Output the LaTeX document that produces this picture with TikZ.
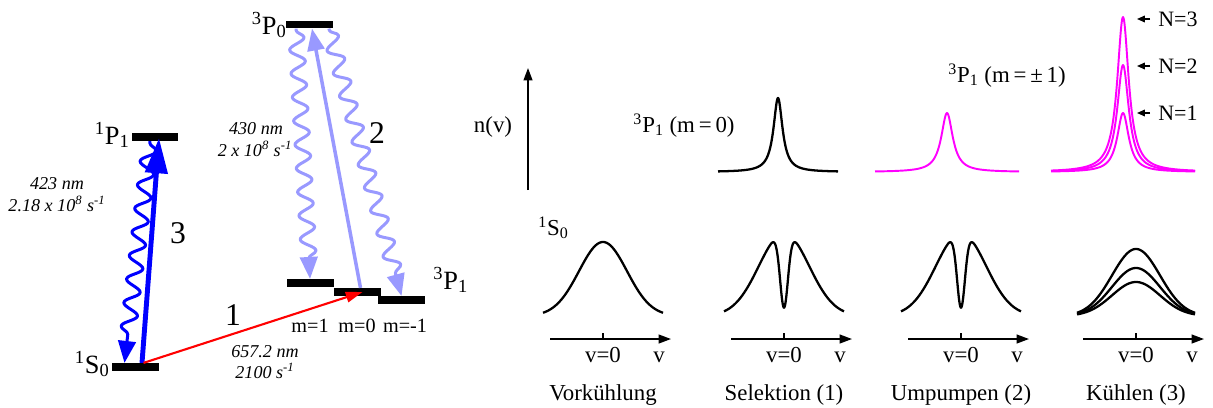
\documentclass[tikz,border=0pt]{standalone}
\usepackage{fontspec}
\setmainfont{Liberation Serif}
\usetikzlibrary{arrows.meta,calc,decorations.pathmorphing}
\definecolor{lightblue}{RGB}{153,153,255}
\definecolor{peakpink}{RGB}{255,0,255}
\newcommand{\atomterm}[3]{\textsuperscript{#1}#2\textsubscript{#3}}

\begin{document}
\begin{tikzpicture}[x=0.02cm,y=-0.02cm,>={Triangle[length=7pt,width=5pt]},line join=round]
	\tikzset{
		level/.style={fill=black,inner sep=0pt,minimum width=0.94cm,minimum height=0.15cm},
		term/.style={font=\fontsize{15}{18}\selectfont,inner sep=0pt},
		msub/.style={font=\fontsize{11.5}{13}\selectfont,inner sep=0pt},
		rate/.style={font=\fontsize{10.3}{12}\selectfont\itshape,inner sep=0pt},
		stepno/.style={font=\fontsize{18}{20}\selectfont,inner sep=0pt},
		txt/.style={font=\fontsize{13}{15}\selectfont,inner sep=0pt},
		ntxt/.style={font=\fontsize{12.5}{14}\selectfont,inner sep=0pt},
		wave/.style={line width=1.7pt,decorate,decoration={snake,amplitude=4.3pt,segment length=13.5pt,pre length=1pt,post length=11pt}},
		wavehead/.style={-{Triangle[length=12.5pt,width=10pt]}},
		curve/.style={line width=1.3pt,samples=241,smooth},
		vaxis/.style={line width=0.9pt}
	}
	\useasboundingbox (0,0) rectangle (1213,407);
	
	% --- Niveaus ---
	\node[level] (S0) at (135.5,367) {};
	\node[level] (P1) at (155,137) {};
	\node[level] (P0) at (309,24.5) {};
	\node[level] (m1) at (310,283) {};
	\node[level] (m0) at (357.5,292) {};
	\node[level] (mm1) at (401.5,300) {};
	
	\node[term,anchor=base east] (tS0) at (110,373) {\atomterm{1}{S}{0}};
	\node[term,anchor=base east] (tP1) at (130,144) {\atomterm{1}{P}{1}};
	\node[term,anchor=base east] (tP0) at (287,34) {\atomterm{3}{P}{0}};
	\node[term,anchor=base west] (tP3) at (433,289) {\atomterm{3}{P}{1}};
	
	\node[msub,anchor=base] (lm1) at (310,332) {m=1};
	\node[msub,anchor=base] (lm0) at (357,332) {m=0};
	\node[msub,anchor=base] (lmm1) at (405,332) {m=-1};
	
	% --- Uebergaenge ---
	\draw[blue,wave,wavehead] ($(P1.south)+(-5,0)$) -- ($(S0.north)+(-11,0)$);
	\draw[blue,line width=2.8pt,-{Triangle[length=20pt,width=12.5pt]}] ($(S0.north)+(6.5,0)$) -- ($(P1.south)+(4,-3)$);
	\draw[red,line width=1.2pt,-{Triangle[length=9.5pt,width=6pt]}] ($(S0.north)+(8,0)$) -- ($(m0.center)+(5,0)$);
	\draw[lightblue,wave,wavehead] ($(P0.south)+(-13,0)$) -- (m1.north);
	\draw[lightblue,wave,wavehead] ($(P0.south east)+(-4,0)$) -- (mm1.north);
	\draw[lightblue,line width=2pt,-{Triangle[length=12.5pt,width=9.6pt]}] ($(m0.north)+(3,0)$) -- ($(P0.south)+(3,0)$);
	
	\node[stepno,anchor=base] (n1) at (233,325) {1};
	\node[stepno,anchor=base] (n2) at (377,143) {2};
	\node[stepno,anchor=base] (n3) at (178,243) {3};
	
	\node[rate,anchor=base] (r1a) at (57,189) {423 nm};
	\node[rate,anchor=base] (r1b) at (57,211) {2.18 x 10\textsuperscript{8} s\textsuperscript{-1}};
	\node[rate,anchor=base] (r2a) at (256,134) {430 nm};
	\node[rate,anchor=base] (r2b) at (255,156) {2 x 10\textsuperscript{8} s\textsuperscript{-1}};
	\node[rate,anchor=base] (r3a) at (265,357) {657.2 nm};
	\node[rate,anchor=base] (r3b) at (265,378) {2100 s\textsuperscript{-1}};
	
	% --- Verteilungen 3P1 ---
	\draw[vaxis,->] (528,190) -- (528,68);
	\node[txt,anchor=base] (nv) at (493,132) {n(v)};
	\node[txt,anchor=base] (tm0) at (684,132) {\atomterm{3}{P}{1} (m\,=\,0)};
	\node[txt,anchor=base] (tm1) at (1007,82) {\atomterm{3}{P}{1} (m\,=\,±\,1)};
	
	\draw[curve] plot[domain=-60:60] ({778+\x},{172-74/(1+\x*\x/30)});
	\draw[curve,peakpink,line width=1.1pt] plot[domain=-72:72] ({947+\x},{172-59/(1+\x*\x/49)});
	\foreach \h in {59,107,155}
		\draw[curve,peakpink,line width=1.1pt] plot[domain=-72:72] ({1123+\x},{172-\h/(1+\x*\x/49)});
	
	\foreach \y/\n in {19/3,66/2,113/1}{
		\node[ntxt,anchor=west] (N\n) at (1158,\y) {N=\n};
		\draw[line width=0.8pt,-{Triangle[length=4.5pt,width=3.8pt]}] ($(N\n.west)+(-8,0)$) -- ($(N\n.west)+(-21,0)$);
	}
	
	% --- Verteilungen 1S0 ---
	\node[txt,anchor=base west] (tS0b) at (538,235) {\atomterm{1}{S}{0}};
	\draw[curve] plot[domain=-60:60] ({603+\x},{316-74*exp(-\x*\x/1152)});
	\foreach \c in {784,961}
		\draw[curve] plot[domain=-60:60] ({\c+\x},{316-83*exp(-\x*\x/1250)*(1-0.9*exp(-min(\x*\x/32,15)))});
	\foreach \h in {34,48,67}
		\draw[curve] plot[domain=-59:59] ({1136+\x},{316-\h*exp(-\x*\x/1152)});
	
	\foreach \c/\t [count=\i] in {603/Vorkühlung,784/Selektion (1),961/Umpumpen (2),1136/Kühlen (3)}{
		\draw[vaxis,->] (\c-53,339) -- (\c+68,339);
		\draw[vaxis] (\c,339) -- (\c,333);
		\node[txt,anchor=base] (vz\i) at (\c,362) {v=0};
		\node[txt,anchor=base] (vv\i) at (\c+56,362) {v};
		\node[txt,anchor=base] (ttl\i) at (\c,400) {\t};
	}
\end{tikzpicture}
\end{document}
